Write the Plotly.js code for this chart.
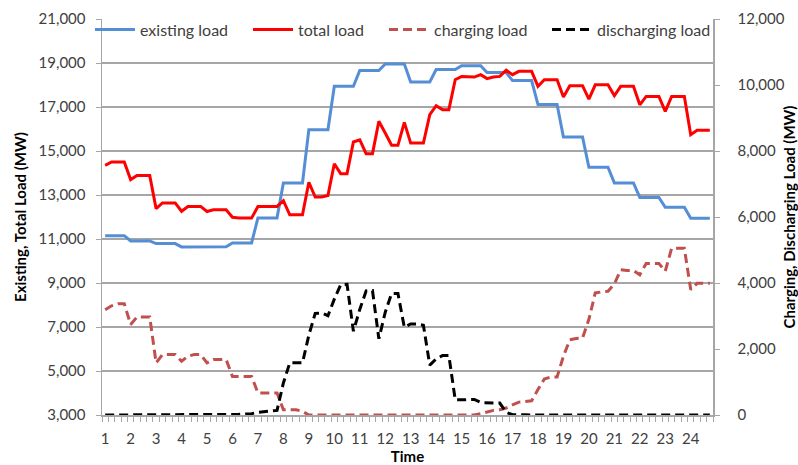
<!DOCTYPE html>
<html>
<head>
<meta charset="utf-8">
<script src="https://cdn.plot.ly/plotly-3.0.1.min.js"></script>
<style>html,body{margin:0;padding:0;background:#fff;}#chart{width:798px;height:465px;}</style>
</head>
<body>
<div id="chart"></div>
<script>
// Time of day at quarter-hour resolution (hours)
var time = [
  1,1.25,1.5,1.75, 2,2.25,2.5,2.75, 3,3.25,3.5,3.75, 4,4.25,4.5,4.75,
  5,5.25,5.5,5.75, 6,6.25,6.5,6.75, 7,7.25,7.5,7.75, 8,8.25,8.5,8.75,
  9,9.25,9.5,9.75, 10,10.25,10.5,10.75, 11,11.25,11.5,11.75, 12,12.25,12.5,12.75,
  13,13.25,13.5,13.75, 14,14.25,14.5,14.75, 15,15.25,15.5,15.75, 16,16.25,16.5,16.75,
  17,17.25,17.5,17.75, 18,18.25,18.5,18.75, 19,19.25,19.5,19.75, 20,20.25,20.5,20.75,
  21,21.25,21.5,21.75, 22,22.25,22.5,22.75, 23,23.25,23.5,23.75, 24,24.25,24.5,24.75
];

var existingLoad = [
  11150,11150,11150,11150, 10910,10910,10910,10910, 10790,10790,10790,10790, 10640,10640,10640,10640,
  10650,10650,10650,10650, 10820,10820,10820,10820, 11960,11960,11960,11960, 13550,13550,13550,13550,
  15970,15970,15970,15970, 17940,17940,17940,17940, 18660,18660,18660,18660, 18960,18960,18960,18960,
  18140,18140,18140,18140, 18700,18700,18700,18700, 18880,18880,18880,18880, 18570,18570,18570,18570,
  18200,18200,18200,18200, 17110,17110,17110,17110, 15640,15640,15640,15640, 14260,14260,14260,14260,
  13550,13550,13550,13550, 12890,12890,12890,12890, 12440,12440,12440,12440, 11940,11940,11940,11940
];

var totalLoad = [
  14350,14500,14500,14500, 13700,13890,13890,13890, 12380,12640,12640,12640, 12260,12480,12480,12480,
  12250,12330,12330,12330, 11990,11950,11950,11950, 12480,12480,12480,12480, 12740,12100,12100,12100,
  13580,12910,12910,12980, 14420,13970,13970,15410, 15510,14880,14880,16350, 15820,15260,15260,16300,
  15360,15360,15360,16650, 17060,16880,16880,18240, 18390,18380,18360,18470, 18290,18360,18390,18670,
  18470,18620,18620,18620, 17940,18240,18240,18240, 17450,17970,17970,17970, 17360,18010,18010,18010,
  17510,17940,17940,17940, 17100,17480,17480,17480, 16800,17480,17480,17480, 15740,15940,15940,15940
];

var chargingLoad = [
  3190,3310,3370,3370, 2740,2970,2970,2970, 1580,1830,1830,1830, 1630,1780,1830,1830,
  1580,1680,1680,1680, 1170,1170,1170,1170, 670,670,670,670, 160,160,160,110,
  0,0,0,0, 0,0,0,0, 0,0,0,0, 0,0,0,0,
  0,0,0,0, 0,0,0,0, 0,0,0,40, 90,140,160,210,
  310,390,410,430, 770,1090,1150,1150, 1780,2280,2320,2330, 2900,3700,3730,3750,
  3970,4400,4380,4380, 4250,4590,4590,4590, 4360,5050,5050,5050, 3800,3990,3990,3990
];

var dischargingLoad = [
  0,0,0,0, 0,0,0,0, 0,0,0,0, 0,0,0,0,
  0,0,0,0, 20,20,30,40, 80,100,120,140, 970,1580,1580,1580,
  2420,3080,3090,3010, 3510,3950,3960,2540, 3200,3760,3770,2310, 3110,3680,3680,2660,
  2760,2760,2720,1510, 1700,1800,1800,460, 460,470,470,380, 360,360,360,80,
  10,20,10,0, 0,0,0,0, 0,0,0,0, 0,0,0,0,
  0,0,0,0, 0,0,0,0, 0,0,0,0, 0,0,0,0
];

var hourTicks = [1,2,3,4,5,6,7,8,9,10,11,12,13,14,15,16,17,18,19,20,21,22,23,24];
var hourLabels = ['1','2','3','4','5','6','7','8','9','10','11','12','13','14','15','16','17','18','19','20','21','22','23','24'];
var leftTicks = [3000,5000,7000,9000,11000,13000,15000,17000,19000,21000];
var leftLabels = ['3,000','5,000','7,000','9,000','11,000','13,000','15,000','17,000','19,000','21,000'];
var rightTicks = [0,2000,4000,6000,8000,10000,12000];
var rightLabels = ['0','2,000','4,000','6,000','8,000','10,000','12,000'];

var FONT = 'Lato, "Open Sans", sans-serif';
var GRID = '#A6A6A6';
var TXT = '#404040';

var traces = [
  {x: time, y: existingLoad, name: 'existing load', type: 'scatter', mode: 'lines',
   line: {color: '#558ED5', width: 3}, yaxis: 'y', legend: 'legend'},
  {x: time, y: totalLoad, name: 'total load', type: 'scatter', mode: 'lines',
   line: {color: '#FF0000', width: 3}, yaxis: 'y', legend: 'legend2'},
  {x: time, y: chargingLoad, name: 'charging load', type: 'scatter', mode: 'lines',
   line: {color: '#C0504D', width: 3, dash: '9px,5px'}, yaxis: 'y2', legend: 'legend3'},
  {x: time, y: dischargingLoad, name: 'discharging load', type: 'scatter', mode: 'lines',
   line: {color: '#000000', width: 3, dash: '9px,5px'}, yaxis: 'y2', legend: 'legend4'}
];

function leg(xpx) {
  return {x: (xpx - 102) / 611, xanchor: 'left', y: 1.016, yanchor: 'top',
    bgcolor: 'rgba(0,0,0,0)', borderwidth: 0, itemwidth: 40,
    font: {family: FONT, size: 16, color: TXT}};
}

var layout = {
  width: 798, height: 465,
  margin: {l: 102, r: 85, t: 19, b: 50, pad: 0},
  paper_bgcolor: '#fff', plot_bgcolor: '#fff',
  font: {family: FONT, color: TXT},
  showlegend: true,
  legend: leg(90), legend2: leg(248), legend3: leg(384), legend4: leg(547),
  xaxis: {
    range: [0.875, 24.875], tickmode: 'array', tickvals: hourTicks, ticktext: hourLabels,
    ticks: '', showline: true, linecolor: GRID, linewidth: 1.5, showgrid: false, zeroline: false,
    minor: {tick0: 0.875, dtick: 0.25, ticks: 'outside', ticklen: 5, tickcolor: GRID, tickwidth: 1, showgrid: false},
    ticklabelstandoff: 9,
    tickfont: {family: FONT, size: 15, color: TXT},
    title: {text: 'Time', font: {family: FONT, size: 15, color: '#000', weight: 'bold'}, standoff: 5}
  },
  yaxis: {
    range: [3000, 21000], tickmode: 'array', tickvals: leftTicks, ticktext: leftLabels,
    showgrid: true, gridcolor: GRID, gridwidth: 1.5, showline: true, linecolor: GRID, linewidth: 1.5,
    ticks: 'outside', ticklen: 5, tickcolor: GRID, zeroline: false, ticklabelstandoff: 7,
    tickfont: {family: FONT, size: 15, color: TXT},
    title: {text: 'Existing, Total Load (MW)', font: {family: FONT, size: 15, color: '#000', weight: 'bold'}, standoff: 8}
  },
  yaxis2: {
    overlaying: 'y', side: 'right', range: [0, 12000], tickmode: 'array', tickvals: rightTicks, ticktext: rightLabels,
    showgrid: false, showline: true, linecolor: GRID, linewidth: 1.5, ticks: 'outside', ticklen: 5, tickcolor: GRID,
    zeroline: false, ticklabelstandoff: 15,
    tickfont: {family: FONT, size: 15, color: TXT},
    title: {text: 'Charging, Discharging Load (MW)', font: {family: FONT, size: 15, color: '#000', weight: 'bold'}, standoff: 4}
  }
};

Plotly.newPlot('chart', traces, layout, {displayModeBar: false, staticPlot: true});
</script>
</body>
</html>
